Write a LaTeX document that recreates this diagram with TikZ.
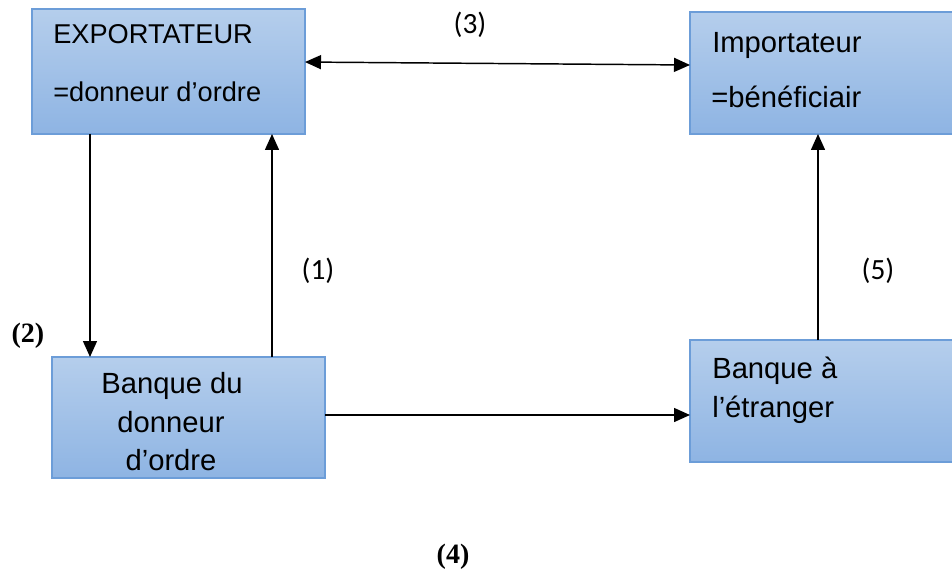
\documentclass[tikz,border=0pt]{standalone}
\usepackage{fontspec}
\setmainfont{Liberation Sans}
\newfontfamily\calibf{Carlito}
\newfontfamily\timesf{Liberation Serif}
\usetikzlibrary{arrows.meta}
\definecolor{boxtop}{HTML}{B5CEEC}
\definecolor{boxbot}{HTML}{8EB4E3}
\definecolor{boxline}{HTML}{6C9DD8}
\begin{document}
\begin{tikzpicture}[x=0.75pt,y=-0.75pt,
  box/.style={draw=boxline, line width=1.1pt, top color=boxtop, bottom color=boxbot,
    inner sep=0pt, outer sep=0pt, anchor=center},
  boxtxt/.style={inner sep=0pt, font=\fontsize{21.9}{25}\selectfont},
  smalltxt/.style={inner sep=0pt, font=\fontsize{20.4}{24}\selectfont},
  numlbl/.style={inner sep=0pt, font=\calibf\fontsize{22}{26}\selectfont},
  boldlbl/.style={inner sep=0pt, font=\timesf\bfseries\fontsize{21}{25}\selectfont},
  conn/.style={line width=1.1pt, -{Triangle[length=12pt,width=10.5pt]}},
  dconn/.style={line width=1.1pt, {Triangle[length=12pt,width=10.5pt]}-{Triangle[length=12pt,width=10.5pt]}}]
\useasboundingbox (0,0) rectangle (952,573);
\fill[white] (0,0) rectangle (952,573);

\node[box, minimum width=204.75pt, minimum height=93.75pt] (b1) at (168.5,71.5) {};
\node[box, minimum width=202.5pt, minimum height=91.5pt] (b2) at (825,73) {};
\node[box, minimum width=204.75pt, minimum height=90.75pt] (b3) at (188.5,417.5) {};
\node[box, minimum width=202.5pt, minimum height=91.5pt] (b4) at (825,401) {};

\node[smalltxt, anchor=base west] (t1a) at (53,44) {EXPORTATEUR};
\node[smalltxt, anchor=base west] (t1b) at (53,102) {=donneur d’ordre};
\node[boxtxt, anchor=base west] (t2a) at (712,53) {Importateur};
\node[boxtxt, anchor=base west] (t2b) at (711,108) {=bénéficiair};
\node[boxtxt, anchor=base] (t3a) at (172,393) {Banque du};
\node[boxtxt, anchor=base] (t3b) at (171,432) {donneur};
\node[boxtxt, anchor=base] (t3c) at (171,470) {d’ordre};
\node[boxtxt, anchor=base west] (t4a) at (712,378) {Banque à};
\node[boxtxt, anchor=base west] (t4b) at (712,417) {l’étranger};

\node[numlbl] (l1) at (318,271) {(1)};
\node[numlbl] (l3) at (470,25) {(3)};
\node[numlbl] (l5) at (878,271) {(5)};
\node[boldlbl] (l2) at (28,336) {(2)};
\node[boldlbl] (l4) at (453,557) {(4)};

\coordinate (p) at (90,0);
\coordinate (q) at (272,0);
\coordinate (s) at (818,0);
\coordinate (r) at (0,415);

\draw[dconn] ([yshift=7.1pt]b1.east) -- ([yshift=6pt]b2.west);
\draw[conn] (b1.south -| p) -- (b3.north -| p);
\draw[conn] (b3.north -| q) -- (b1.south -| q);
\draw[conn] (b3.east |- r) -- (b4.west |- r);
\draw[conn] (b4.north -| s) -- (b2.south -| s);
\end{tikzpicture}
\end{document}
